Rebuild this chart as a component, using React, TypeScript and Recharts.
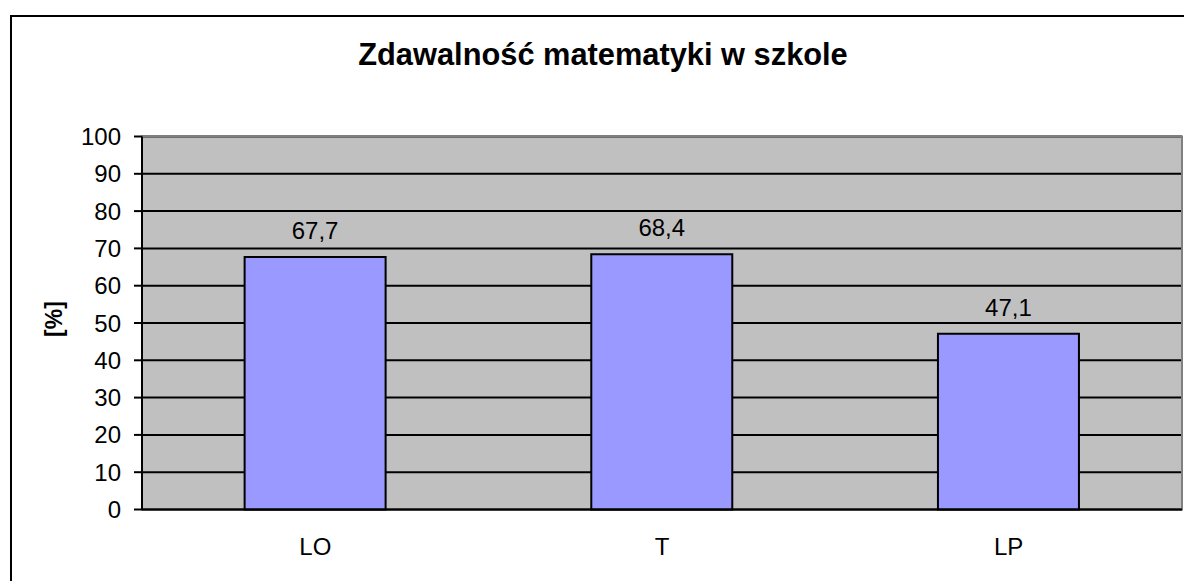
import React from "react";
import {
  BarChart,
  Bar,
  XAxis,
  YAxis,
  CartesianGrid,
  LabelList,
  ReferenceArea,
} from "recharts";

const categories = ["LO", "T", "LP"];
const values = [67.7, 68.4, 47.1];
const yTicks = [0, 10, 20, 30, 40, 50, 60, 70, 80, 90, 100];
const boundaryTicks = [0, 1, 2, 3];
const title = "Zdawalność matematyki w szkole";
const yLabel = "[%]";

const data = categories.map((c, i) => ({ name: c, value: values[i] }));

const FONT = "'Liberation Sans', Arial, sans-serif";

const YLabel = (props: any) => {
  const vb = props.viewBox || {};
  const x = vb.x + 46;
  const y = vb.y + vb.height / 2 - 4;
  return (
    <text
      x={x}
      y={y}
      transform={`rotate(-90 ${x} ${y})`}
      textAnchor="middle"
      dominantBaseline="central"
      fontFamily={FONT}
      fontWeight="bold"
      fontSize={23}
      fill="#000"
    >
      {yLabel}
    </text>
  );
};

export default function App() {
  return (
    <div
      style={{
        position: "fixed",
        left: 0,
        top: 0,
        width: 1184,
        height: 581,
        overflow: "hidden",
        background: "#fff",
        fontFamily: FONT,
      }}
    >
      <div
        style={{
          position: "absolute",
          left: 10,
          top: 15,
          width: 1300,
          height: 700,
          borderLeft: "2px solid #000",
          borderTop: "2px solid #000",
          boxSizing: "border-box",
        }}
      />
      <div
        style={{
          position: "absolute",
          left: 8,
          top: 40,
          width: 1190,
          textAlign: "center",
          fontSize: 30.8,
          lineHeight: "30px",
          fontWeight: "bold",
          color: "#000",
          fontFamily: FONT,
        }}
      >
        {title}
      </div>
      <div style={{ position: "absolute", left: 8, top: 8 }}>
        <BarChart
          width={1176}
          height={560}
          data={data}
          margin={{ top: 128.5, right: 2, bottom: 18.5, left: 0 }}
          barCategoryGap="29.6%"
        >
          <CartesianGrid
            vertical={false}
            stroke="#000"
            strokeWidth={2}
            fill="#C0C0C0"
            fillOpacity={1}
          />
          <ReferenceArea
            y1={0}
            y2={100}
            fill="none"
            stroke="#808080"
            strokeWidth={2}
            ifOverflow="visible"
          />
          <XAxis
            xAxisId="bounds"
            type="number"
            domain={[0, 3]}
            ticks={boundaryTicks}
            height={0}
            axisLine={false}
            tickLine={{ stroke: "#000", strokeWidth: 2 }}
            tickSize={8}
            tickFormatter={() => ""}
            allowDataOverflow
          />
          <XAxis
            dataKey="name"
            height={40}
            axisLine={{ stroke: "#000", strokeWidth: 2 }}
            tickLine={false}
            tickSize={0}
            tickMargin={28}
            tick={{ fill: "#000", fontSize: 24, fontFamily: FONT }}
          />
          <YAxis
            width={134}
            domain={[0, 100]}
            ticks={yTicks}
            interval={0}
            axisLine={{ stroke: "#000", strokeWidth: 2 }}
            tickLine={{ stroke: "#000", strokeWidth: 2 }}
            tickSize={8}
            tickMargin={13}
            tick={{ fill: "#000", fontSize: 24, fontFamily: FONT }}
            label={<YLabel />}
          />
          <Bar
            dataKey="value"
            fill="#9999FF"
            stroke="#000"
            strokeWidth={2}
            isAnimationActive={false}
          >
            <LabelList
              dataKey="value"
              position="top"
              offset={18}
              formatter={(v: any) => String(v).replace(".", ",")}
              style={{ fill: "#000", fontSize: 24, fontFamily: FONT }}
            />
          </Bar>
        </BarChart>
      </div>
    </div>
  );
}
